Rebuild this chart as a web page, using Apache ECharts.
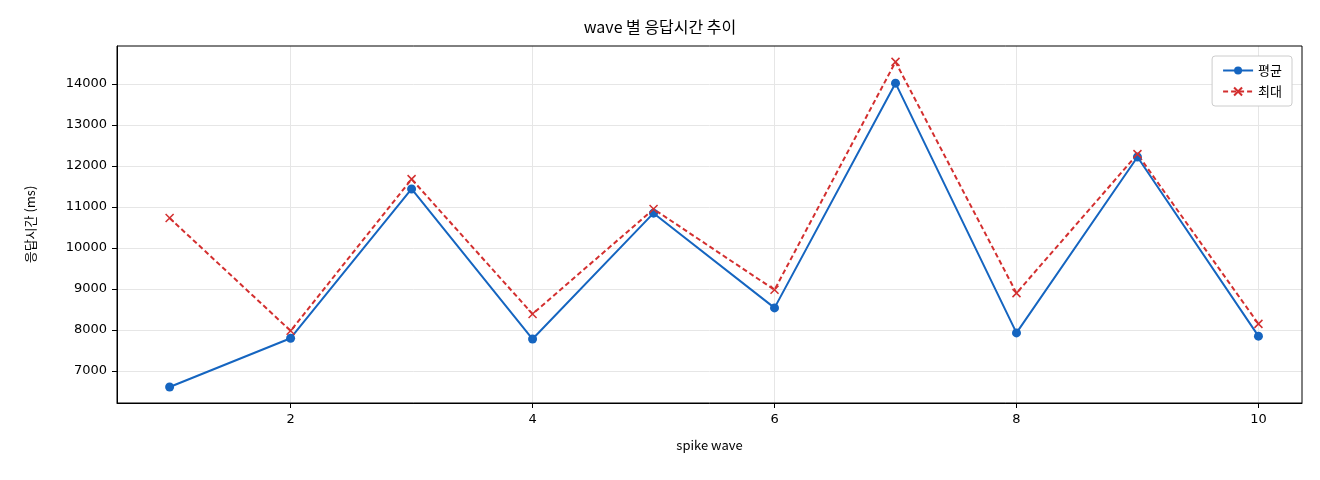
<!DOCTYPE html>
<html><head><meta charset="utf-8">
<script src="https://cdn.jsdelivr.net/npm/echarts@6/dist/echarts.min.js"></script>
<style>html,body{margin:0;padding:0;background:#fff}#c{width:1320px;height:480px}</style>
</head><body><div id="c"></div>
<script>
const waves = [1,2,3,4,5,6,7,8,9,10];
const avgMs = [6610,7800,11440,7780,10850,8540,14020,7930,12220,7850];
const maxMs = [10730,7980,11680,8390,10950,8980,14540,8900,12290,8150];
const xTicks = [2,4,6,8,10];
const yTicks = [7000,8000,9000,10000,11000,12000,13000,14000];
const font = '"Noto Sans CJK KR", "DejaVu Sans", sans-serif';
const chart = echarts.init(document.getElementById('c'));
chart.setOption({
  animation:false,
  textStyle:{fontFamily:font},
  title:{text:'wave 별 응답시간 추이',left:'center',top:14,textStyle:{fontSize:16,fontWeight:'normal',color:'#000',fontFamily:font}},
  grid:{left:117,right:18,top:46,bottom:77},
  legend:{right:28,top:56,orient:'vertical',itemGap:8,backgroundColor:'#fff',borderColor:'#ccc',borderWidth:1,borderRadius:3,padding:[8,10],
    textStyle:{fontSize:13,color:'#000'},itemWidth:30,itemHeight:10,
    data:['평균','최대']},
  xAxis:{type:'value',min:0.565,max:10.36,name:'spike wave',nameLocation:'middle',nameGap:36,
    nameTextStyle:{fontSize:13,color:'#000'},
    axisLine:{onZero:false,lineStyle:{color:'#000'}},
    axisTick:{customValues:xTicks,length:5,lineStyle:{color:'#000'}},
    axisLabel:{customValues:xTicks,fontSize:13,color:'#000',margin:10,fontFamily:'DejaVu Sans'},
    splitLine:{show:true,lineStyle:{color:'#e6e6e6'}}},
  yAxis:{type:'value',min:6220,max:14927,name:'응답시간 (ms)',nameLocation:'middle',nameGap:80,
    nameTextStyle:{fontSize:13,color:'#000'},
    axisLine:{show:true,lineStyle:{color:'#000'}},
    axisTick:{show:true,customValues:yTicks,length:5,lineStyle:{color:'#000'}},
    axisLabel:{customValues:yTicks,fontSize:13,color:'#000',margin:10,fontFamily:'DejaVu Sans',formatter:v=>String(v)},
    splitLine:{show:true,lineStyle:{color:'#e6e6e6'}}},
  series:[
    {name:'평균',type:'line',data:waves.map((w,i)=>[w,avgMs[i]]),symbol:'circle',symbolSize:9,
      lineStyle:{color:'#1565c0',width:2},itemStyle:{color:'#1565c0'}},
    {name:'최대',type:'line',data:waves.map((w,i)=>[w,maxMs[i]]),
      symbol:'path://M0,0L10,10M10,0L0,10',symbolSize:8,
      lineStyle:{color:'#d32f2f',width:2,type:[5,3]},itemStyle:{color:'#d32f2f',borderColor:'#d32f2f',borderWidth:1.5}}
  ]
});
chart.setOption({graphic:[{type:'rect',shape:{x:117,y:46,width:1320-117-18,height:480-46-77},style:{fill:null,stroke:'#000',lineWidth:1},silent:true}]});
</script></body></html>
